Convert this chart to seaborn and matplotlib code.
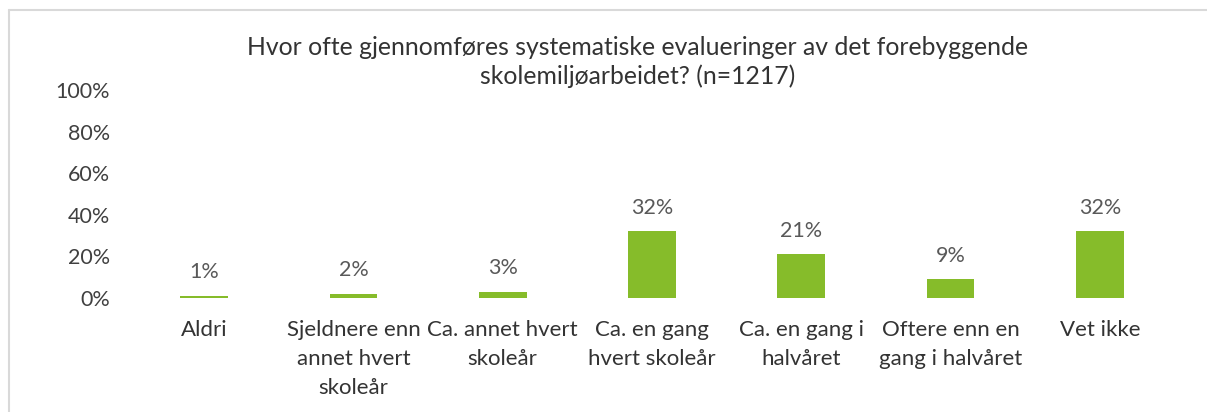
import matplotlib
matplotlib.use('Agg')
import matplotlib.pyplot as plt
import seaborn as sns
import pandas as pd
from matplotlib.lines import Line2D

# data
categories = ['Aldri', 'Sjeldnere enn\nannet hvert\nskoleår', 'Ca. annet hvert\nskoleår',
              'Ca. en gang\nhvert skoleår', 'Ca. en gang i\nhalvåret',
              'Oftere enn en\ngang i halvåret', 'Vet ikke']
values = [1, 2, 3, 32, 21, 9, 32]
y_ticks = [0, 20, 40, 60, 80, 100]
title = 'Hvor ofte gjennomføres systematiske evalueringer av det forebyggende\nskolemiljøarbeidet? (n=1217)'

sns.set_theme(style='white')
plt.rcParams['font.family'] = ['Lato', 'DejaVu Sans']

df = pd.DataFrame({'cat': categories, 'val': values})

fig = plt.figure(figsize=(12.07, 4.12), dpi=100)
ax = fig.add_axes([129.5 / 1207, 1 - 298 / 412, 1045 / 1207, 208 / 412])

sns.barplot(data=df, x='cat', y='val', color='#86BC2A', saturation=1, width=0.32,
            linewidth=0, ax=ax)

for i, v in enumerate(values):
    ax.text(i, v + 6.5, f'{v}%', ha='center', va='bottom', fontsize=15.5, color='#595959')

ax.set_ylim(0, 100)
ax.set_yticks(y_ticks)
ax.set_yticklabels([f'{t}%' for t in y_ticks], fontsize=15.5, color='#404040')
ax.tick_params(axis='y', length=0, pad=14)
ax.tick_params(axis='x', length=0, pad=16, labelsize=16, labelcolor='#333333')
for lab in ax.get_xticklabels():
    lab.set_linespacing(1.55)
    lab.set_va('top')
ax.set_xlabel('')
ax.set_ylabel('')
for s in ax.spines.values():
    s.set_visible(False)

fig.text(638 / 1207, 1 - 62 / 412, title, ha='center', va='center', fontsize=17.8,
         color='#333333', linespacing=1.32)

# light grey frame round the chart
fig.add_artist(Line2D([9 / 1207, 9 / 1207], [0, 1 - 10 / 412], color='#d9d9d9', lw=1.5,
                      transform=fig.transFigure))
fig.add_artist(Line2D([9 / 1207, 1], [1 - 10 / 412, 1 - 10 / 412], color='#d9d9d9', lw=1.5,
                      transform=fig.transFigure))

fig.savefig('out.png', dpi=100, facecolor='white')
